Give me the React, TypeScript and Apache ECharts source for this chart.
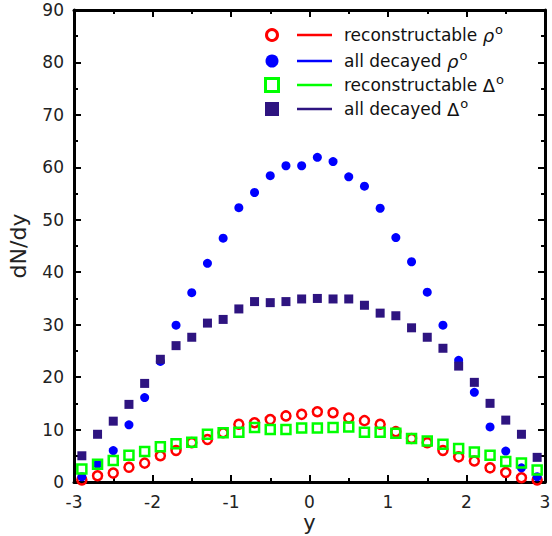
import React, { useEffect, useRef } from "react";
import * as echarts from "echarts";

const rapidity = [-2.9, -2.7, -2.5, -2.3, -2.1, -1.9, -1.7, -1.5, -1.3, -1.1, -0.9, -0.7, -0.5, -0.3, -0.1, 0.1, 0.3, 0.5, 0.7, 0.9, 1.1, 1.3, 1.5, 1.7, 1.9, 2.1, 2.3, 2.5, 2.7, 2.9];
const recRho = [0.4, 1.2, 1.7, 2.8, 3.6, 5.0, 6.0, 7.5, 8.1, 9.4, 11.0, 11.3, 11.9, 12.6, 12.9, 13.4, 13.2, 12.2, 11.7, 11.0, 9.6, 8.3, 7.5, 6.0, 4.8, 4.0, 2.7, 1.8, 0.8, 0.4];
const allRho = [1.0, 3.4, 6.0, 10.9, 16.1, 23.0, 29.9, 36.1, 41.7, 46.5, 52.3, 55.2, 58.4, 60.3, 60.3, 61.9, 61.1, 58.2, 56.4, 52.2, 46.6, 42.0, 36.2, 29.9, 23.2, 17.1, 10.5, 5.9, 2.7, 1.0];
const recDelta = [2.5, 3.4, 4.1, 5.1, 5.8, 6.7, 7.3, 7.6, 9.1, 9.4, 9.5, 10.4, 10.0, 10.0, 10.3, 10.3, 10.4, 10.5, 9.5, 9.5, 9.3, 8.3, 7.8, 7.2, 6.4, 5.7, 5.1, 3.9, 3.6, 2.3];
const allDelta = [5.0, 9.1, 11.6, 14.8, 18.8, 23.4, 26.0, 27.6, 30.3, 31.0, 33.0, 34.4, 34.2, 34.4, 34.9, 35.0, 34.9, 34.9, 33.7, 32.2, 31.7, 29.4, 27.6, 25.5, 22.1, 19.0, 15.0, 11.8, 9.1, 4.7];

const legendNames = ["reconstructable ", "all decayed ", "reconstructable ", "all decayed "];
const legendSymbols = ["ρ", "ρ", "Δ", "Δ"];

const RED = "#ff0000";
const BLUE = "#0000ff";
const GREEN = "#00ff00";
const PURPLE = "#2e1480";
const FONT = "DejaVu Sans";

const pairs = (ys: number[]) => rapidity.map((x, i) => [x, ys[i]]);

export default function App() {
  const ref = useRef<HTMLDivElement>(null);
  useEffect(() => {
    if (!ref.current) return;
    const chart = echarts.init(ref.current, undefined, { renderer: "svg" });
    const axisLine = { onZero: false, lineStyle: { color: "#000", width: 3 } };
    const tick = { inside: true, length: 7, lineStyle: { color: "#000", width: 2 } };
    const minor = { show: true, splitNumber: 2, length: 4, lineStyle: { color: "#000", width: 2 } };
    const label = { fontSize: 17, lineHeight: 18, color: "#222", fontFamily: FONT };
    const colors = [RED, BLUE, GREEN, PURPLE];
    const rowsY = [35, 61, 85, 109];
    const legend: any[] = [];
    rowsY.forEach((y, i) => {
      const c = colors[i];
      if (i === 0) legend.push({ type: "circle", shape: { cx: 272, cy: y, r: 5.5 }, style: { fill: "none", stroke: c, lineWidth: 3 } });
      if (i === 1) legend.push({ type: "circle", shape: { cx: 272, cy: y, r: 6.5 }, style: { fill: c } });
      if (i === 2) legend.push({ type: "rect", shape: { x: 265.5, y: y - 6.5, width: 13, height: 13 }, style: { fill: "none", stroke: c, lineWidth: 3 } });
      if (i === 3) legend.push({ type: "rect", shape: { x: 265, y: y - 7, width: 14, height: 14 }, style: { fill: c } });
      legend.push({ type: "line", shape: { x1: 297, y1: y, x2: 332, y2: y }, style: { stroke: c, lineWidth: 2.5 } });
      legend.push({
        type: "text",
        x: 344,
        y: y,
        style: {
          text: `{a|${legendNames[i]}}{g|${legendSymbols[i]}}{s|o}`,
          verticalAlign: "middle",
          rich: {
            a: { fontSize: 17, fontFamily: FONT, fill: "#111" },
            g: { fontSize: 18, fontFamily: FONT, fill: "#111", fontStyle: legendSymbols[i] === "ρ" ? "italic" : "normal" },
            s: { fontSize: 13, fontFamily: FONT, fill: "#111", verticalAlign: "top", padding: [0, 0, 12, 1] },
          },
        },
      });
    });
    chart.setOption({
      animation: false,
      grid: { left: 74, right: 7, top: 10, bottom: 54, outerBoundsMode: "none", containLabel: false },
      xAxis: [
        {
          type: "value", min: -3, max: 3, interval: 1, position: "bottom",
          axisLine, axisTick: tick, minorTick: minor, splitLine: { show: false },
          axisLabel: { ...label, margin: 11 },
          name: "y", nameLocation: "middle", nameGap: 30, nameMoveOverlap: false,
          nameTextStyle: { fontSize: 21, lineHeight: 22, color: "#222", fontFamily: FONT },
        },
        {
          type: "value", min: -3, max: 3, interval: 1, position: "top",
          axisLine, axisTick: tick, minorTick: minor, splitLine: { show: false },
          axisLabel: { show: false },
        },
      ],
      yAxis: [
        {
          type: "value", min: 0, max: 90, interval: 10, position: "left",
          axisLine, axisTick: tick, minorTick: minor, splitLine: { show: false },
          axisLabel: { ...label, margin: 10 },
          name: "dN/dy", nameLocation: "middle", nameGap: 45, nameMoveOverlap: false,
          nameTextStyle: { fontSize: 22, color: "#222", fontFamily: FONT },
        },
        {
          type: "value", min: 0, max: 90, interval: 10, position: "right",
          axisLine, axisTick: tick, minorTick: minor, splitLine: { show: false },
          axisLabel: { show: false },
        },
      ],
      series: [
        { name: "reconstructable ρ°", type: "scatter", data: pairs(recRho), symbol: "circle", symbolSize: 9, itemStyle: { color: "none", borderColor: RED, borderWidth: 2.5, opacity: 1 } },
        { name: "all decayed ρ°", type: "scatter", data: pairs(allRho), symbol: "circle", symbolSize: 9, itemStyle: { color: BLUE, opacity: 1 } },
        { name: "reconstructable Δ°", type: "scatter", data: pairs(recDelta), symbol: "rect", symbolSize: 9, itemStyle: { color: "none", borderColor: GREEN, borderWidth: 2.5, opacity: 1 } },
        { name: "all decayed Δ°", type: "scatter", data: pairs(allDelta), symbol: "rect", symbolSize: 9, itemStyle: { color: PURPLE, opacity: 1 } },
      ],
      graphic: legend,
    });
    return () => chart.dispose();
  }, []);
  return <div ref={ref} style={{ position: "fixed", left: 0, top: 0, width: 552, height: 536, background: "#fff" }} />;
}
